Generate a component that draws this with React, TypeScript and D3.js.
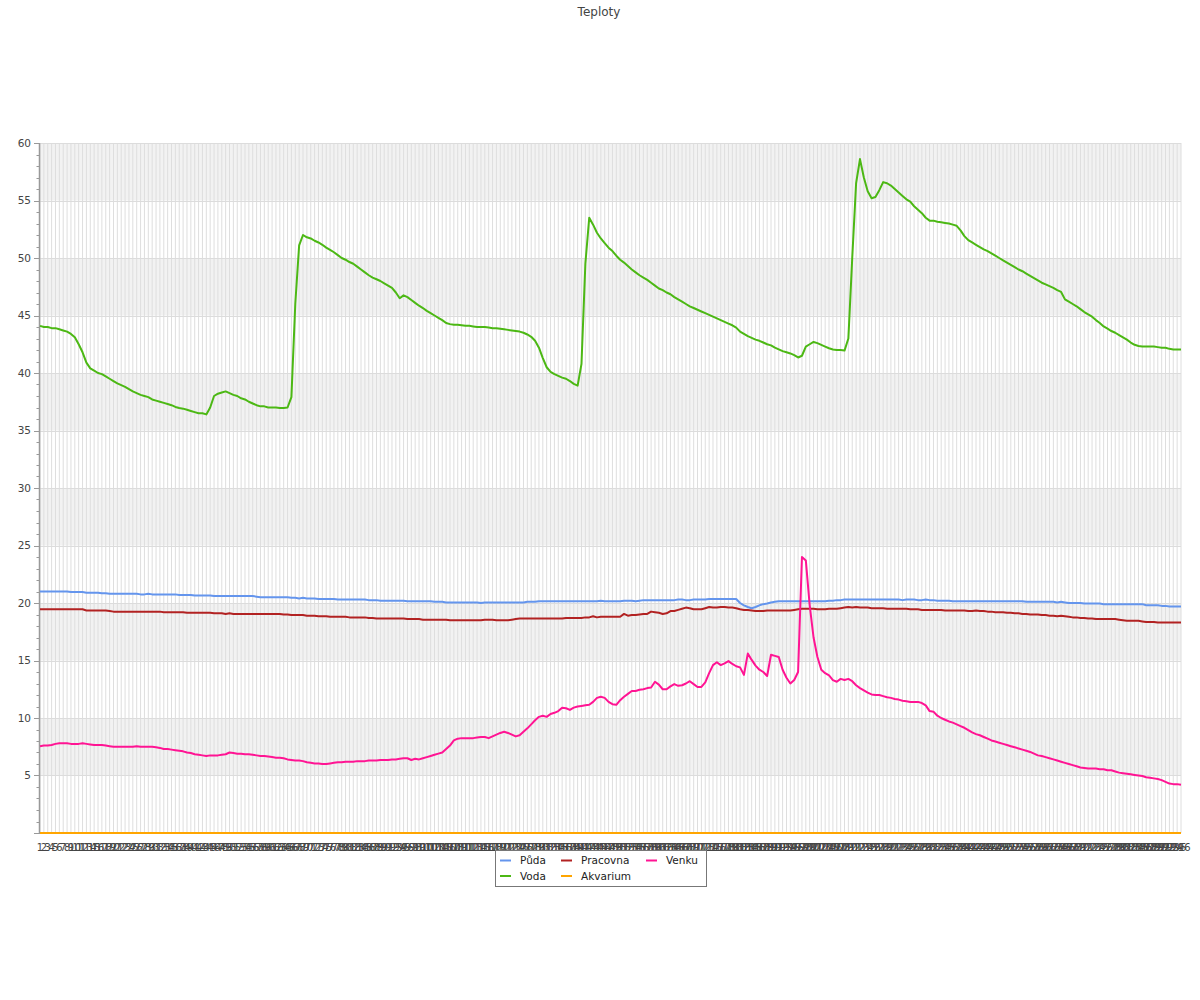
import React from 'react';
import * as d3 from 'd3';

// Teploty – hourly readings, one value per category
const puda = [
  21.0,21.0,21.0,21.0,21.0,21.0,21.0,21.0,20.95,20.95,
  20.95,20.95,20.9,20.9,20.9,20.9,20.85,20.85,20.8,20.8,
  20.8,20.8,20.8,20.8,20.8,20.8,20.75,20.75,20.8,20.75,
  20.75,20.75,20.75,20.75,20.75,20.75,20.7,20.7,20.7,20.7,
  20.65,20.65,20.65,20.65,20.65,20.6,20.6,20.6,20.6,20.6,
  20.6,20.6,20.6,20.6,20.6,20.6,20.55,20.5,20.5,20.5,
  20.5,20.5,20.5,20.5,20.5,20.45,20.45,20.4,20.45,20.4,
  20.4,20.4,20.35,20.35,20.35,20.35,20.35,20.3,20.3,20.3,
  20.3,20.3,20.3,20.3,20.3,20.25,20.25,20.25,20.2,20.2,
  20.2,20.2,20.2,20.2,20.2,20.15,20.15,20.15,20.15,20.15,
  20.15,20.15,20.1,20.1,20.1,20.05,20.05,20.05,20.05,20.05,
  20.05,20.05,20.05,20.05,20.0,20.05,20.05,20.05,20.05,20.05,
  20.05,20.05,20.05,20.05,20.05,20.05,20.1,20.1,20.1,20.15,
  20.15,20.15,20.15,20.15,20.15,20.15,20.15,20.15,20.15,20.15,
  20.15,20.15,20.15,20.15,20.15,20.2,20.15,20.15,20.15,20.15,
  20.15,20.2,20.2,20.2,20.15,20.2,20.25,20.25,20.25,20.25,
  20.25,20.25,20.25,20.25,20.25,20.3,20.3,20.25,20.25,20.3,
  20.3,20.3,20.3,20.35,20.35,20.35,20.35,20.35,20.35,20.35,
  20.35,20.0,19.8,19.65,19.55,19.65,19.8,19.9,19.95,20.05,
  20.1,20.15,20.15,20.15,20.15,20.15,20.15,20.15,20.15,20.15,
  20.15,20.15,20.15,20.15,20.2,20.2,20.25,20.25,20.3,20.3,
  20.3,20.3,20.3,20.3,20.3,20.3,20.3,20.3,20.3,20.3,
  20.3,20.3,20.3,20.25,20.3,20.3,20.3,20.25,20.25,20.3,
  20.25,20.25,20.2,20.2,20.2,20.2,20.15,20.15,20.15,20.15,
  20.15,20.15,20.15,20.15,20.15,20.15,20.15,20.15,20.15,20.15,
  20.15,20.15,20.15,20.15,20.15,20.1,20.1,20.1,20.1,20.1,
  20.1,20.1,20.1,20.05,20.1,20.05,20.0,20.0,20.0,20.0,
  19.95,19.95,19.95,19.95,19.95,19.9,19.9,19.9,19.9,19.9,
  19.9,19.9,19.9,19.9,19.9,19.9,19.8,19.8,19.8,19.8,
  19.75,19.75,19.7,19.7,19.7,19.7,
];

const voda = [
  44.1,44.0,44.0,43.9,43.9,43.8,43.7,43.6,43.4,43.1,
  42.5,41.8,40.9,40.4,40.2,40.0,39.9,39.7,39.5,39.3,
  39.1,38.95,38.8,38.6,38.4,38.25,38.1,38.0,37.9,37.7,
  37.6,37.5,37.4,37.3,37.2,37.05,36.95,36.9,36.8,36.7,
  36.6,36.5,36.5,36.4,37.0,38.0,38.2,38.3,38.4,38.25,
  38.1,38.0,37.8,37.7,37.5,37.35,37.2,37.1,37.1,37.0,
  37.0,37.0,36.96,36.96,37.0,37.9,46.0,51.1,52.0,51.8,
  51.7,51.5,51.35,51.15,50.9,50.7,50.5,50.25,50.0,49.85,
  49.65,49.5,49.25,49.0,48.75,48.5,48.3,48.15,48.0,47.8,
  47.6,47.4,47.0,46.5,46.75,46.6,46.35,46.1,45.85,45.65,
  45.4,45.2,45.0,44.8,44.6,44.35,44.25,44.2,44.2,44.15,
  44.1,44.1,44.05,44.0,44.0,44.0,43.95,43.9,43.9,43.85,
  43.8,43.75,43.7,43.65,43.6,43.5,43.35,43.15,42.8,42.2,
  41.3,40.5,40.1,39.9,39.75,39.6,39.5,39.3,39.05,38.9,
  40.8,49.5,53.5,52.9,52.2,51.7,51.3,50.9,50.6,50.2,
  49.85,49.6,49.3,49.0,48.75,48.5,48.3,48.1,47.85,47.6,
  47.35,47.2,47.0,46.85,46.6,46.4,46.2,46.0,45.8,45.65,
  45.5,45.35,45.2,45.05,44.9,44.75,44.6,44.45,44.3,44.15,
  43.95,43.6,43.4,43.2,43.05,42.9,42.8,42.65,42.5,42.4,
  42.2,42.05,41.9,41.8,41.7,41.55,41.35,41.5,42.3,42.5,
  42.7,42.6,42.45,42.3,42.15,42.05,42.0,42.0,41.95,43.0,
  50.0,56.5,58.6,57.0,55.8,55.2,55.3,55.9,56.6,56.5,
  56.3,56.0,55.7,55.4,55.1,54.9,54.5,54.2,53.9,53.5,
  53.25,53.25,53.15,53.1,53.05,53.0,52.9,52.8,52.4,51.9,
  51.55,51.35,51.15,50.95,50.75,50.6,50.4,50.2,50.0,49.8,
  49.6,49.4,49.2,49.0,48.85,48.65,48.45,48.25,48.05,47.85,
  47.7,47.55,47.4,47.2,47.05,46.4,46.2,46.0,45.8,45.55,
  45.3,45.1,44.9,44.6,44.35,44.05,43.85,43.65,43.5,43.3,
  43.1,42.9,42.65,42.45,42.35,42.3,42.3,42.3,42.3,42.25,
  42.2,42.2,42.1,42.05,42.05,42.05,
];

const pracovna = [
  19.45,19.45,19.45,19.45,19.45,19.45,19.45,19.45,19.45,19.45,
  19.45,19.45,19.35,19.35,19.35,19.35,19.35,19.35,19.3,19.25,
  19.25,19.25,19.25,19.25,19.25,19.25,19.25,19.25,19.25,19.25,
  19.25,19.25,19.2,19.2,19.2,19.2,19.2,19.2,19.15,19.15,
  19.15,19.15,19.15,19.15,19.15,19.1,19.1,19.1,19.05,19.1,
  19.05,19.05,19.05,19.05,19.05,19.05,19.05,19.05,19.05,19.05,
  19.05,19.05,19.05,19.0,19.0,18.95,18.95,18.95,18.95,18.9,
  18.9,18.9,18.85,18.85,18.85,18.8,18.8,18.8,18.8,18.8,
  18.75,18.75,18.75,18.75,18.75,18.7,18.7,18.65,18.65,18.65,
  18.65,18.65,18.65,18.65,18.65,18.6,18.6,18.6,18.6,18.55,
  18.55,18.55,18.55,18.55,18.55,18.55,18.5,18.5,18.5,18.5,
  18.5,18.5,18.5,18.5,18.5,18.55,18.55,18.55,18.5,18.5,
  18.5,18.5,18.55,18.6,18.65,18.65,18.65,18.65,18.65,18.65,
  18.65,18.65,18.65,18.65,18.65,18.65,18.7,18.7,18.7,18.7,
  18.7,18.75,18.75,18.85,18.75,18.8,18.8,18.8,18.8,18.8,
  18.8,19.05,18.9,18.95,18.95,19.0,19.05,19.05,19.25,19.2,
  19.15,19.05,19.1,19.3,19.3,19.4,19.5,19.6,19.55,19.45,
  19.45,19.45,19.55,19.65,19.6,19.6,19.65,19.65,19.6,19.6,
  19.55,19.45,19.4,19.4,19.35,19.3,19.3,19.3,19.35,19.35,
  19.35,19.35,19.35,19.35,19.35,19.4,19.45,19.5,19.5,19.5,
  19.5,19.45,19.45,19.45,19.5,19.5,19.5,19.55,19.6,19.65,
  19.6,19.65,19.6,19.6,19.6,19.55,19.55,19.55,19.55,19.5,
  19.5,19.5,19.5,19.5,19.5,19.45,19.45,19.45,19.4,19.4,
  19.4,19.4,19.4,19.4,19.35,19.35,19.35,19.35,19.35,19.35,
  19.3,19.3,19.35,19.3,19.3,19.25,19.25,19.2,19.2,19.2,
  19.15,19.15,19.1,19.1,19.05,19.05,19.0,19.0,19.0,18.95,
  18.95,18.9,18.9,18.85,18.9,18.85,18.8,18.75,18.75,18.7,
  18.7,18.65,18.65,18.6,18.6,18.6,18.6,18.6,18.6,18.55,
  18.5,18.45,18.45,18.45,18.45,18.4,18.35,18.35,18.35,18.3,
  18.3,18.3,18.3,18.3,18.3,18.3,
];

const akvarium = [
  0,0,0,0,0,0,0,0,0,0,
  0,0,0,0,0,0,0,0,0,0,
  0,0,0,0,0,0,0,0,0,0,
  0,0,0,0,0,0,0,0,0,0,
  0,0,0,0,0,0,0,0,0,0,
  0,0,0,0,0,0,0,0,0,0,
  0,0,0,0,0,0,0,0,0,0,
  0,0,0,0,0,0,0,0,0,0,
  0,0,0,0,0,0,0,0,0,0,
  0,0,0,0,0,0,0,0,0,0,
  0,0,0,0,0,0,0,0,0,0,
  0,0,0,0,0,0,0,0,0,0,
  0,0,0,0,0,0,0,0,0,0,
  0,0,0,0,0,0,0,0,0,0,
  0,0,0,0,0,0,0,0,0,0,
  0,0,0,0,0,0,0,0,0,0,
  0,0,0,0,0,0,0,0,0,0,
  0,0,0,0,0,0,0,0,0,0,
  0,0,0,0,0,0,0,0,0,0,
  0,0,0,0,0,0,0,0,0,0,
  0,0,0,0,0,0,0,0,0,0,
  0,0,0,0,0,0,0,0,0,0,
  0,0,0,0,0,0,0,0,0,0,
  0,0,0,0,0,0,0,0,0,0,
  0,0,0,0,0,0,0,0,0,0,
  0,0,0,0,0,0,0,0,0,0,
  0,0,0,0,0,0,0,0,0,0,
  0,0,0,0,0,0,0,0,0,0,
  0,0,0,0,0,0,0,0,0,0,
  0,0,0,0,0,0,
];

const venku = [
  7.55,7.6,7.6,7.65,7.75,7.8,7.8,7.8,7.75,7.75,
  7.75,7.8,7.75,7.7,7.65,7.65,7.65,7.6,7.55,7.5,
  7.5,7.5,7.5,7.5,7.5,7.55,7.5,7.5,7.5,7.5,
  7.45,7.4,7.3,7.3,7.25,7.2,7.15,7.1,7.0,6.95,
  6.85,6.8,6.75,6.7,6.75,6.75,6.75,6.8,6.85,7.0,
  6.95,6.9,6.9,6.85,6.85,6.8,6.75,6.7,6.7,6.65,
  6.6,6.55,6.55,6.5,6.4,6.35,6.3,6.3,6.25,6.15,
  6.1,6.05,6.05,6.0,6.0,6.05,6.1,6.15,6.15,6.2,
  6.2,6.2,6.25,6.25,6.25,6.3,6.3,6.3,6.35,6.35,
  6.35,6.4,6.4,6.45,6.5,6.5,6.35,6.45,6.4,6.5,
  6.6,6.7,6.8,6.9,7.0,7.3,7.6,8.05,8.2,8.25,
  8.25,8.25,8.25,8.3,8.35,8.35,8.25,8.4,8.55,8.7,
  8.8,8.7,8.55,8.4,8.5,8.8,9.1,9.45,9.8,10.1,
  10.2,10.1,10.35,10.45,10.6,10.9,10.85,10.7,10.9,11.0,
  11.05,11.1,11.15,11.4,11.75,11.85,11.75,11.4,11.2,11.15,
  11.55,11.85,12.1,12.35,12.35,12.45,12.5,12.6,12.65,13.15,
  12.9,12.5,12.5,12.75,12.95,12.8,12.85,13.0,13.2,12.95,
  12.7,12.7,13.1,13.9,14.6,14.85,14.6,14.75,14.95,14.7,
  14.5,14.4,13.75,15.6,15.05,14.55,14.2,14.0,13.65,15.5,
  15.4,15.3,14.2,13.5,13.0,13.3,14.0,24.0,23.7,19.8,
  17.0,15.3,14.2,13.9,13.7,13.3,13.15,13.4,13.3,13.4,
  13.2,12.85,12.6,12.4,12.2,12.05,12.0,12.0,11.9,11.8,
  11.75,11.65,11.6,11.5,11.45,11.4,11.4,11.4,11.3,11.1,
  10.6,10.55,10.2,10.0,9.85,9.7,9.6,9.45,9.3,9.15,
  8.95,8.75,8.6,8.5,8.35,8.2,8.05,7.95,7.85,7.75,
  7.65,7.55,7.45,7.35,7.25,7.15,7.05,6.9,6.75,6.7,
  6.6,6.5,6.4,6.3,6.2,6.1,6.0,5.9,5.8,5.7,
  5.65,5.6,5.6,5.6,5.55,5.55,5.45,5.45,5.35,5.25,
  5.2,5.15,5.1,5.05,5.0,4.95,4.85,4.8,4.75,4.7,
  4.6,4.45,4.3,4.25,4.25,4.2,
];

const categories = voda.map((_, i) => String(i + 1));

const series = [
  { name: 'Půda', color: '#6495ed', values: puda },
  { name: 'Voda', color: '#4cb814', values: voda },
  { name: 'Pracovna', color: '#b22222', values: pracovna },
  { name: 'Akvarium', color: '#ffa500', values: akvarium },
  { name: 'Venku', color: '#ff1493', values: venku },
];

const yTicks = [5, 10, 15, 20, 25, 30, 35, 40, 45, 50, 55, 60];

const W = 1200;
const H = 1000;
const margin = { top: 143, right: 19, bottom: 167, left: 40 };
const font = '"DejaVu Sans", sans-serif';

export default function App() {
  const x = d3.scalePoint<string>()
    .domain(categories)
    .range([margin.left, W - margin.right]);
  const y = d3.scaleLinear()
    .domain([0, 60])
    .range([H - margin.bottom, margin.top]);

  const line = d3.line<number>()
    .x((_, i) => x(categories[i]) as number)
    .y(d => y(d));

  const minorTicks = d3.range(0, 61).filter(v => v % 5 !== 0);
  const bands = [5, 15, 25, 35, 45, 55];

  const x0 = margin.left;
  const x1 = W - margin.right;
  const yBottom = y(0);

  // legend items flow top-to-bottom, two rows per column
  const legendX = [500, 561, 646];
  const legendY = [860.5, 876];

  return (
    <svg width={W} height={H} style={{ position: 'absolute', left: 0, top: 0, display: 'block' }}
      fontFamily={font}>
      <rect width={W} height={H} fill="#fff" />
      <text x={599} y={16} textAnchor="middle" fontSize={12} fill="#444">Teploty</text>

      {bands.map(b => (
        <rect key={b} x={x0} y={y(b + 5)} width={x1 - x0} height={y(b) - y(b + 5)} fill="#f2f2f2" />
      ))}

      {categories.map(c => (
        <line key={c} x1={x(c)} x2={x(c)} y1={y(60)} y2={yBottom} stroke="#dedede" strokeWidth={1} />
      ))}

      {yTicks.map(t => (
        <line key={t} x1={x0} x2={x1} y1={Math.round(y(t)) + 0.5} y2={Math.round(y(t)) + 0.5}
          stroke="#dcdcdc" strokeWidth={1} />
      ))}

      {/* y axis */}
      <line x1={x0 - 0.5} x2={x0 - 0.5} y1={y(60)} y2={yBottom + 1} stroke="#999" strokeWidth={1.5} />
      {yTicks.map(t => (
        <g key={t}>
          <line x1={x0 - 6} x2={x0} y1={Math.round(y(t)) + 0.5} y2={Math.round(y(t)) + 0.5} stroke="#999" />
          <text x={x0 - 9} y={y(t)} dy="0.35em" textAnchor="end" fontSize={10.5} fill="#444">{t}</text>
        </g>
      ))}
      {minorTicks.map(t => (
        <line key={t} x1={x0 - 3.5} x2={x0} y1={Math.round(y(t)) + 0.5} y2={Math.round(y(t)) + 0.5} stroke="#999" />
      ))}
      <line x1={x0 - 6} x2={x1} y1={yBottom + 0.5} y2={yBottom + 0.5} stroke="#999" />

      {/* x labels, one per category */}
      {categories.map(c => (
        <text key={c} x={x(c)} y={851} textAnchor="middle" fontSize={10} fill="#444">{c}</text>
      ))}

      {series.map(s => (
        <path key={s.name} d={line(s.values) || ''} fill="none" stroke={s.color} strokeWidth={2}
          strokeLinejoin="round" />
      ))}

      {/* legend */}
      <rect x={495.5} y={850.5} width={211} height={36} fill="#fff" stroke="#777" />
      {series.map((s, i) => {
        const lx = legendX[Math.floor(i / 2)];
        const ly = legendY[i % 2];
        return (
          <g key={s.name}>
            <line x1={lx} x2={lx + 11} y1={ly} y2={ly} stroke={s.color} strokeWidth={2} />
            <text x={lx + 20} y={ly} dy="0.35em" fontSize={10.5} fill="#222">{s.name}</text>
          </g>
        );
      })}
    </svg>
  );
}
